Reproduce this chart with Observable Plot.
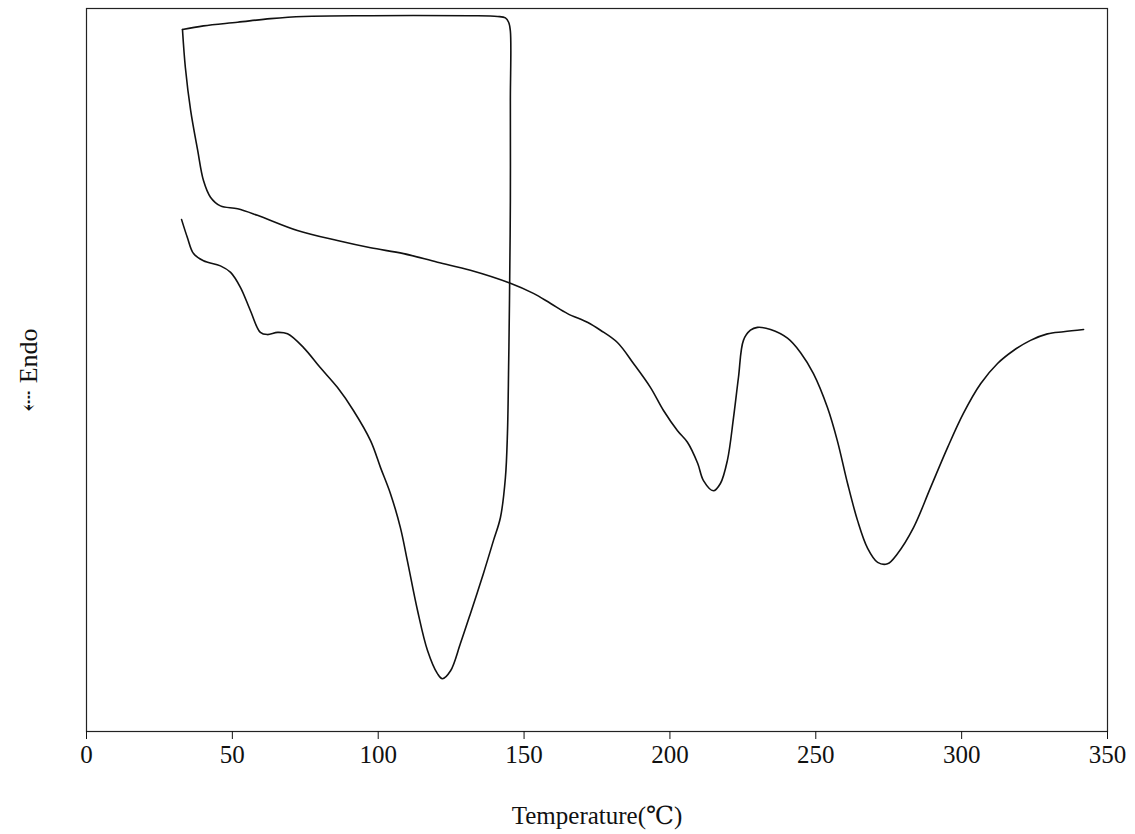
<!DOCTYPE html>
<html>
<head>
<meta charset="utf-8">
<script src="https://cdn.jsdelivr.net/npm/d3@7"></script>
<script src="https://cdn.jsdelivr.net/npm/@observablehq/plot@0.6"></script>
<style>
  html, body { margin: 0; padding: 0; background: #fff; }
</style>
</head>
<body>
<div id="chart"></div>
<script>
// First scan: temperature (°C) and signal (arbitrary units, Endo down)
const scan1Temp = [32.6, 34.6, 36.7, 40.1, 45.9, 49.4, 52.8, 56.2, 59.6, 62.0, 65.5, 68.9, 74.4, 80.2, 86.0, 91.5, 97.4, 100.8, 104.2, 107.6, 110.0, 113.5, 116.9, 120.3, 122.0, 124.8, 128.2, 131.6, 136.1, 139.5, 141.9, 143.6, 144.3, 144.7, 145.0, 145.3, 145.3, 145.3, 144.7, 143.6, 140.9, 131.6, 97.4, 74.4, 63.1, 51.8, 40.1, 32.9];
const scan1Value = [70.8, 68.3, 66.1, 65.1, 64.4, 63.5, 61.4, 58.2, 55.2, 54.9, 55.2, 55.0, 53.1, 50.3, 47.6, 44.4, 40.2, 36.5, 32.9, 28.2, 23.6, 16.7, 11.2, 8.0, 7.3, 8.4, 12.2, 16.3, 21.9, 26.4, 29.6, 35.1, 41.2, 50.3, 59.6, 73.4, 87.3, 96.9, 98.1, 98.7, 98.9, 99.0, 99.0, 98.9, 98.6, 98.1, 97.6, 97.1];

// Second scan
const scan2Temp = [32.9, 33.9, 35.7, 38.1, 40.1, 42.5, 45.9, 51.8, 58.6, 72.3, 86.0, 97.4, 108.7, 120.3, 131.6, 145.3, 153.2, 159.1, 164.9, 171.7, 176.2, 182.0, 187.5, 193.3, 197.8, 202.6, 206.0, 209.5, 211.5, 214.9, 217.3, 219.7, 221.8, 223.5, 225.2, 227.6, 230.0, 234.5, 240.3, 244.8, 249.2, 254.0, 257.4, 260.9, 264.3, 267.7, 271.2, 274.6, 278.0, 283.5, 289.3, 295.2, 300.6, 306.5, 312.3, 317.8, 323.6, 329.4, 334.9, 341.8];
const scan2Value = [97.1, 91.8, 85.9, 80.4, 76.2, 73.9, 72.7, 72.3, 71.4, 69.3, 67.9, 66.9, 66.1, 64.9, 63.8, 62.0, 60.6, 59.2, 57.8, 56.6, 55.5, 53.8, 50.9, 47.6, 44.4, 41.6, 40.0, 37.1, 34.7, 33.3, 34.3, 37.5, 43.4, 49.0, 54.1, 55.5, 55.9, 55.6, 54.4, 52.4, 49.5, 44.8, 40.2, 34.3, 29.2, 25.4, 23.4, 23.2, 24.6, 28.2, 33.7, 39.3, 44.0, 48.1, 50.9, 52.7, 54.1, 55.0, 55.3, 55.6];

const xTicks = [0, 50, 100, 150, 200, 250, 300, 350];
const xLabel = "Temperature(℃)";
const yLabel = "⇠ Endo";

const scan1 = scan1Temp.map((t, i) => ({t, v: scan1Value[i]}));
const scan2 = scan2Temp.map((t, i) => ({t, v: scan2Value[i]}));

const chart = Plot.plot({
  width: 1135,
  height: 834,
  marginLeft: 86,
  marginRight: 28,
  marginTop: 8,
  marginBottom: 103,
  style: {fontFamily: "'Liberation Serif', 'DejaVu Serif', serif", fontSize: "25px", color: "#111", background: "#fff"},
  x: {domain: [0, 350]},
  y: {domain: [0, 100]},
  marks: [
    Plot.frame({stroke: "#222", strokeWidth: 1.2}),
    Plot.axisX({ticks: xTicks, tickSize: 8, tickPadding: 6, label: xLabel, labelAnchor: "center", labelArrow: "none", labelOffset: 92, fontSize: 25}),
    Plot.axisY({ticks: [], label: yLabel, labelAnchor: "center", labelArrow: "none", labelOffset: 68, fontSize: 26}),
    Plot.line(scan1, {x: "t", y: "v", stroke: "#111", strokeWidth: 1.6, curve: "catmull-rom"}),
    Plot.line(scan2, {x: "t", y: "v", stroke: "#111", strokeWidth: 1.6, curve: "catmull-rom"})
  ]
});
document.getElementById("chart").appendChild(chart);
</script>
</body>
</html>
